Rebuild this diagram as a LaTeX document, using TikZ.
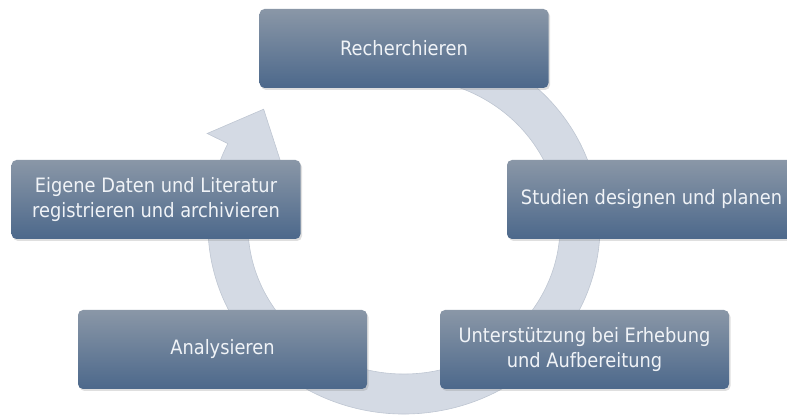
\documentclass[tikz,border=0pt]{standalone}
\usepackage{fontspec}
\newfontfamily\boxfont{DejaVu Sans}[FakeStretch=0.9]
\usetikzlibrary{calc,shadows}
\definecolor{boxtop}{RGB}{138,151,167}
\definecolor{boxbot}{RGB}{76,104,139}
\definecolor{ringfill}{RGB}{212,218,228}
\definecolor{ringedge}{RGB}{190,198,210}
\definecolor{boxtext}{RGB}{240,243,247}
\tikzset{stepbox/.style={rounded corners=5pt, minimum width=289pt, minimum height=79pt,
    top color=boxtop, bottom color=boxbot, text=boxtext, align=center,
    font=\boxfont\fontsize{19.8}{25}\selectfont,
    drop shadow={opacity=0.25, shadow xshift=1.5pt, shadow yshift=-2pt}}}
\begin{document}
\begin{tikzpicture}[x=1pt,y=1pt]
    \useasboundingbox (0,0) rectangle (787,419);%
    \coordinate (M) at (404,193);%

    \fill[ringfill, draw=ringedge, line width=0.6pt] ($(M)+(100:196 and 188)$)
      arc[start angle=100, end angle=-206, x radius=196, y radius=188]
      -- ($(M)+(-206:219 and 211)$) -- ($(M)+(-221:186 and 178)$)
      -- ($(M)+(-206:134 and 126)$) -- ($(M)+(-206:156 and 148)$)
      arc[start angle=-206, end angle=100, x radius=156, y radius=148] -- cycle;%

    \node[stepbox] (rech) at (404,370.5) {Recherchieren};%
    \node[stepbox] (eig) at (156,219.5) {Eigene Daten und Literatur\\registrieren und archivieren};%
    \node[stepbox] (stud) at (651.5,219.5) {Studien designen und planen};%
    \node[stepbox] (ana) at (222.5,69.5) {Analysieren};%
    \node[stepbox] (unt) at (584.5,69.5) {Unterstützung bei Erhebung\\und Aufbereitung};%
  \end{tikzpicture}
\end{document}
